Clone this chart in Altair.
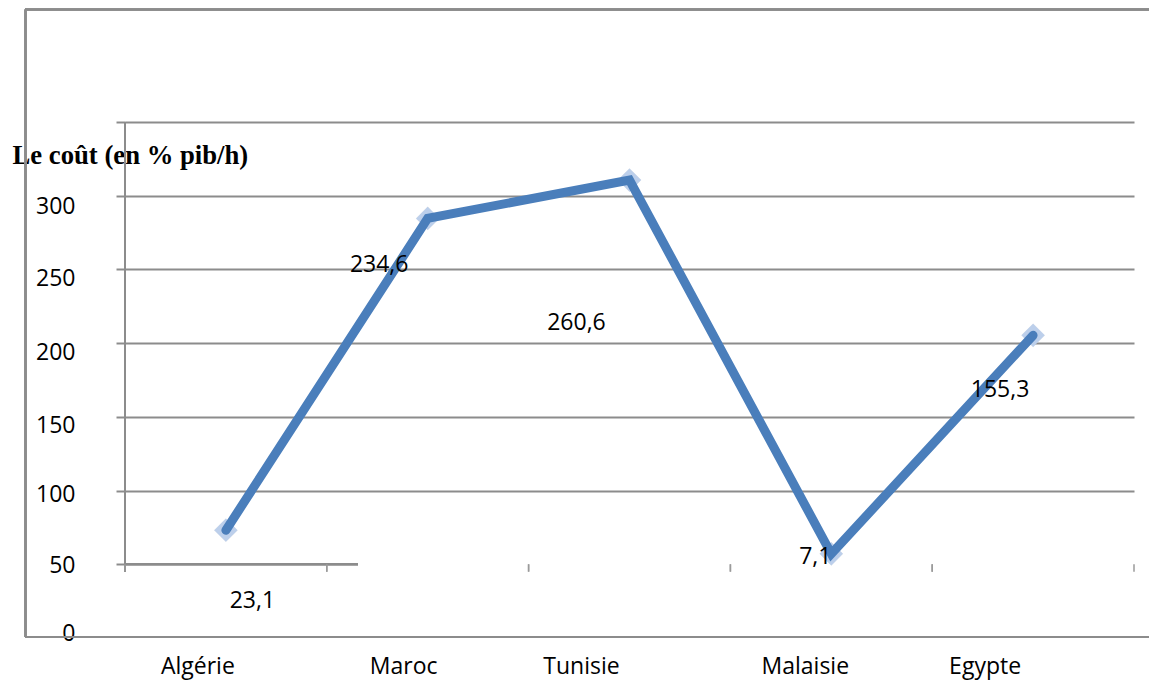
import altair as alt
import pandas as pd

# ---- data ----
categories = ["Algérie", "Maroc", "Tunisie", "Malaisie", "Egypte"]
values = [23.1, 234.6, 260.6, 7.1, 155.3]
value_labels = ["23,1", "234,6", "260,6", "7,1", "155,3"]
y_tick_values = [-50, 0, 50, 100, 150, 200, 250, 300]
y_title = "Le coût (en % pib/h)"

df = pd.DataFrame({"pays": categories, "cout": values, "label": value_labels})

W, H = 1009, 516
FONT = "Open Sans"
GRID = "#8c8c8c"

x_scale = alt.Scale(type="band", domain=categories, paddingInner=0, paddingOuter=0)
y_scale = alt.Scale(domain=[-50, 300], nice=False, zero=False)

x_axis = alt.Axis(
    title=None, ticks=False, domain=False, grid=False,
    labelFont=FONT, labelFontSize=23, labelColor="black", labelAngle=0,
    labelBaseline="middle", labelPadding=28,
    labelOffset={"condition": [
        {"test": "datum.value == 'Tunisie' || datum.value == 'Egypte'", "value": -48},
        {"test": "datum.value == 'Maroc'", "value": -24},
        {"test": "datum.value == 'Algérie'", "value": -28}], "value": -26},
)

y_axis = alt.Axis(
    values=y_tick_values, domain=False,
    labelExpr="datum.value >= 300 ? '' : format(datum.value + 50, 'd')",
    labelFont=FONT, labelFontSize=23, labelColor="black", labelPadding=41,
    labelOffset={"condition": [
        {"test": "datum.value < 0", "value": -5},
        {"test": "datum.value < 50", "value": 1},
        {"test": "datum.value < 100", "value": 4},
        {"test": "datum.value < 250", "value": 9}], "value": 11},
    tickSize=9, tickWidth=2, tickColor=GRID,
    tickOpacity={"condition": {"test": "datum.value < 0", "value": 0}, "value": 1},
    grid=True, gridColor=GRID, gridWidth=2,
    gridOpacity={"condition": {"test": "datum.value <= 0", "value": 0}, "value": 1},
    title=y_title, titleAngle=0, titleAlign="left", titleBaseline="alphabetic",
    titleX=-113, titleY=41, titleFont="Liberation Serif", titleFontWeight="bold",
    titleFontSize=26.7, titleColor="black",
)

XF = alt.X("pays:N", scale=x_scale, axis=x_axis, sort=categories)
YF = alt.Y("cout:Q", scale=y_scale, axis=y_axis)

base = alt.Chart(df)

# outer frame
frame_left = base.mark_rule(color=GRID, strokeWidth=2).encode(
    x=alt.value(-99.5), y=alt.value(-112.5), y2=alt.value(515))
frame_top = base.mark_rule(color=GRID, strokeWidth=2).encode(
    x=alt.value(-100), x2=alt.value(1040), y=alt.value(-112.5))
frame_bottom = base.mark_rule(color=GRID, strokeWidth=2).encode(
    x=alt.value(-100), x2=alt.value(1040), y=alt.value(515))

# y axis line and partial baseline
y_line = base.mark_rule(color=GRID, strokeWidth=2).encode(
    x=alt.value(0),
    y=alt.Y(datum=300, scale=y_scale, axis=y_axis),
    y2=alt.Y2(datum=-5))
baseline = base.mark_rule(color=GRID, strokeWidth=2).encode(
    x=alt.value(0), x2=alt.value(233),
    y=alt.Y(datum=0, scale=y_scale, axis=y_axis))

# category ticks below baseline
ticks_start = base.mark_rule(color="#9a9a9a", strokeWidth=1.5).encode(
    x=alt.X("pays:N", scale=x_scale, bandPosition=0, axis=x_axis, sort=categories),
    y=alt.Y(datum=0, scale=y_scale, axis=y_axis), y2=alt.Y2(datum=-5))
ticks_end = base.mark_rule(color="#9a9a9a", strokeWidth=1.5).encode(
    x=alt.X("pays:N", scale=x_scale, bandPosition=1, axis=x_axis, sort=categories),
    y=alt.Y(datum=0, scale=y_scale, axis=y_axis), y2=alt.Y2(datum=-5))

shadow = base.mark_point(shape="diamond", filled=True, size=560,
                         color="#9aa3b0", opacity=0.25, dx=2, dy=3).encode(x=XF, y=YF)
points = base.mark_point(shape="diamond", filled=True, size=540,
                         color="#bccfeb", opacity=1).encode(x=XF, y=YF)

line = base.mark_line(color="#4a7ebb", strokeWidth=9, strokeCap="round",
                      strokeJoin="miter").encode(x=XF, y=YF)

label_shift = {
    "Algérie": (26.5, 71),
    "Maroc": (-48.5, 47),
    "Tunisie": (-53, 143),
    "Malaisie": (-16, 3),
    "Egypte": (-33, 55),
}
texts = []
for c in categories:
    dx, dy = label_shift[c]
    texts.append(
        base.transform_filter(alt.datum.pays == c).mark_text(
            font=FONT, fontSize=23, color="black", align="center",
            baseline="middle", dx=dx, dy=dy).encode(
            x=XF, y=YF, text="label:N"))

chart = alt.layer(
    frame_left, frame_top, frame_bottom, y_line, baseline,
    ticks_start, ticks_end, shadow, points, line, *texts
).properties(
    width=W, height=H,
    background="white",
    autosize=alt.AutoSizeParams(type="none"),
    padding={"left": 117, "top": 114, "right": 15, "bottom": 43},
).configure_view(strokeWidth=0, stroke=None)

chart.save("out.html", embed_options={"renderer": "svg", "actions": False})
